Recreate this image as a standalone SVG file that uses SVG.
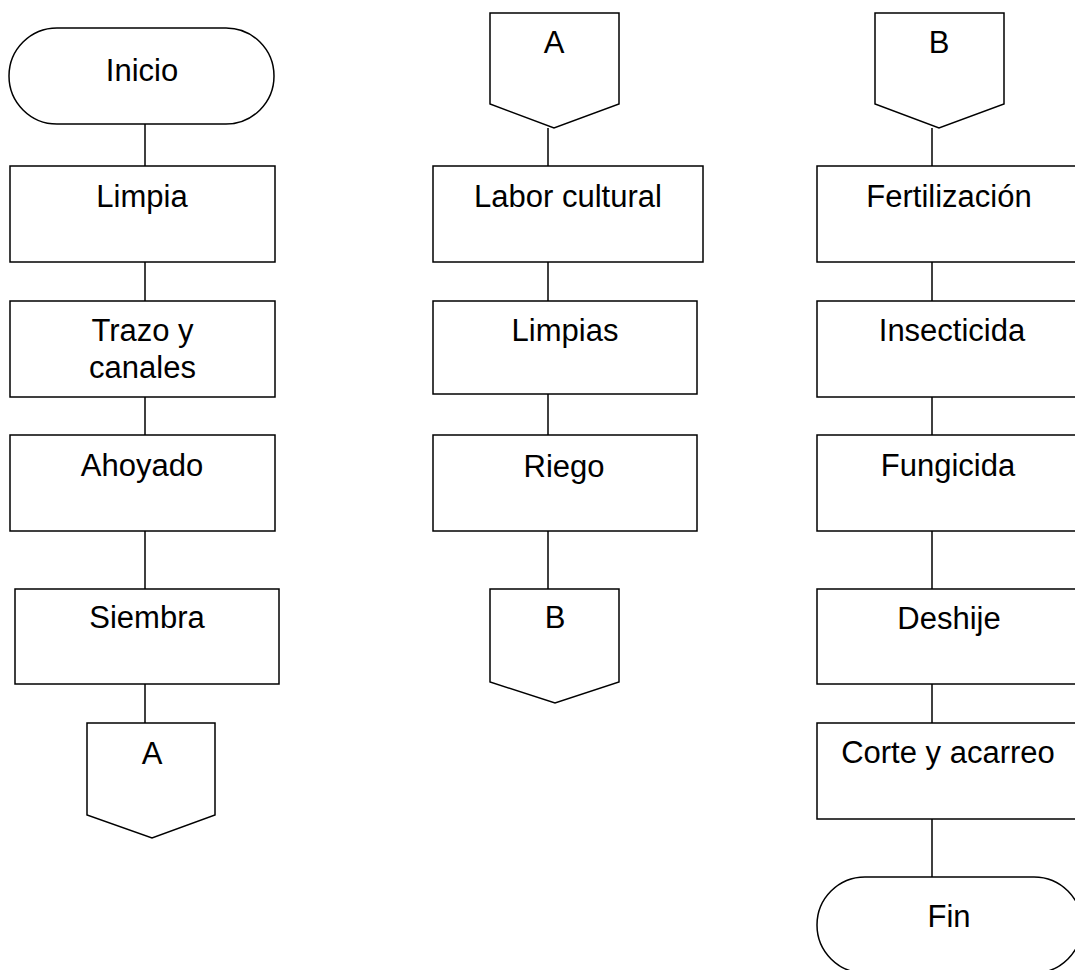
<svg xmlns="http://www.w3.org/2000/svg" width="1075" height="970" viewBox="0 0 1075 970">
<style>
.s{fill:#fff;stroke:#000;stroke-width:1.5}
.c{stroke:#000;stroke-width:1.5;fill:none}
text{font-family:"Liberation Sans",Arial,sans-serif;font-size:31px;fill:#000;text-anchor:middle}
</style>
<rect width="1075" height="970" fill="#fff"/>
<g id="connectors">
<line class="c" x1="145" y1="124" x2="145" y2="166"/>
<line class="c" x1="145" y1="262" x2="145" y2="301"/>
<line class="c" x1="145" y1="397" x2="145" y2="435"/>
<line class="c" x1="145" y1="531" x2="145" y2="589"/>
<line class="c" x1="145" y1="684" x2="145" y2="723"/>
<line class="c" x1="548" y1="128" x2="548" y2="166"/>
<line class="c" x1="548" y1="262" x2="548" y2="301"/>
<line class="c" x1="548" y1="394" x2="548" y2="435"/>
<line class="c" x1="548" y1="531" x2="548" y2="589"/>
<line class="c" x1="932" y1="128" x2="932" y2="166"/>
<line class="c" x1="932" y1="262" x2="932" y2="301"/>
<line class="c" x1="932" y1="397" x2="932" y2="435"/>
<line class="c" x1="932" y1="531" x2="932" y2="589"/>
<line class="c" x1="932" y1="684" x2="932" y2="723"/>
<line class="c" x1="932" y1="819" x2="932" y2="877"/>
</g>
<g id="inicio"><rect class="s" x="9" y="28" width="265" height="96" rx="48" ry="48"/><text x="142" y="81">Inicio</text></g>
<g id="limpia"><rect class="s" x="10" y="166" width="265" height="96"/><text x="142" y="207">Limpia</text></g>
<g id="trazo"><rect class="s" x="10" y="301" width="265" height="96"/><text x="142.5" y="341">Trazo y</text><text x="142.5" y="378">canales</text></g>
<g id="ahoyado"><rect class="s" x="10" y="435" width="265" height="96"/><text x="142" y="476">Ahoyado</text></g>
<g id="siembra"><rect class="s" x="15" y="589" width="264" height="95"/><text x="147" y="628">Siembra</text></g>
<g id="a-out"><polygon class="s" points="87,723 215,723 215,815 152,838 87,815"/><text x="152" y="764">A</text></g>
<g id="a-in"><polygon class="s" points="490,13 619,13 619,104 554,128 490,104"/><text x="554" y="53">A</text></g>
<g id="labor"><rect class="s" x="433" y="166" width="270" height="96"/><text x="568" y="207">Labor cultural</text></g>
<g id="limpias"><rect class="s" x="433" y="301" width="264" height="93"/><text x="565" y="341">Limpias</text></g>
<g id="riego"><rect class="s" x="433" y="435" width="264" height="96"/><text x="564" y="477">Riego</text></g>
<g id="b-out"><polygon class="s" points="490,589 619,589 619,682 555,703 490,682"/><text x="555" y="628">B</text></g>
<g id="b-in"><polygon class="s" points="875,13 1004,13 1004,104 939,128 875,104"/><text x="939" y="53">B</text></g>
<g id="fertilizacion"><rect class="s" x="817" y="166" width="265" height="96"/><text x="949" y="207">Fertilización</text></g>
<g id="insecticida"><rect class="s" x="817" y="301" width="265" height="96"/><text x="952" y="341">Insecticida</text></g>
<g id="fungicida"><rect class="s" x="817" y="435" width="265" height="96"/><text x="948" y="476">Fungicida</text></g>
<g id="deshije"><rect class="s" x="817" y="589" width="265" height="95"/><text x="949" y="629">Deshije</text></g>
<g id="corte"><rect class="s" x="817" y="723" width="265" height="96"/><text x="948" y="763">Corte y acarreo</text></g>
<g id="fin"><rect class="s" x="817" y="877" width="265" height="96" rx="48" ry="48"/><text x="949" y="927">Fin</text></g>
</svg>
